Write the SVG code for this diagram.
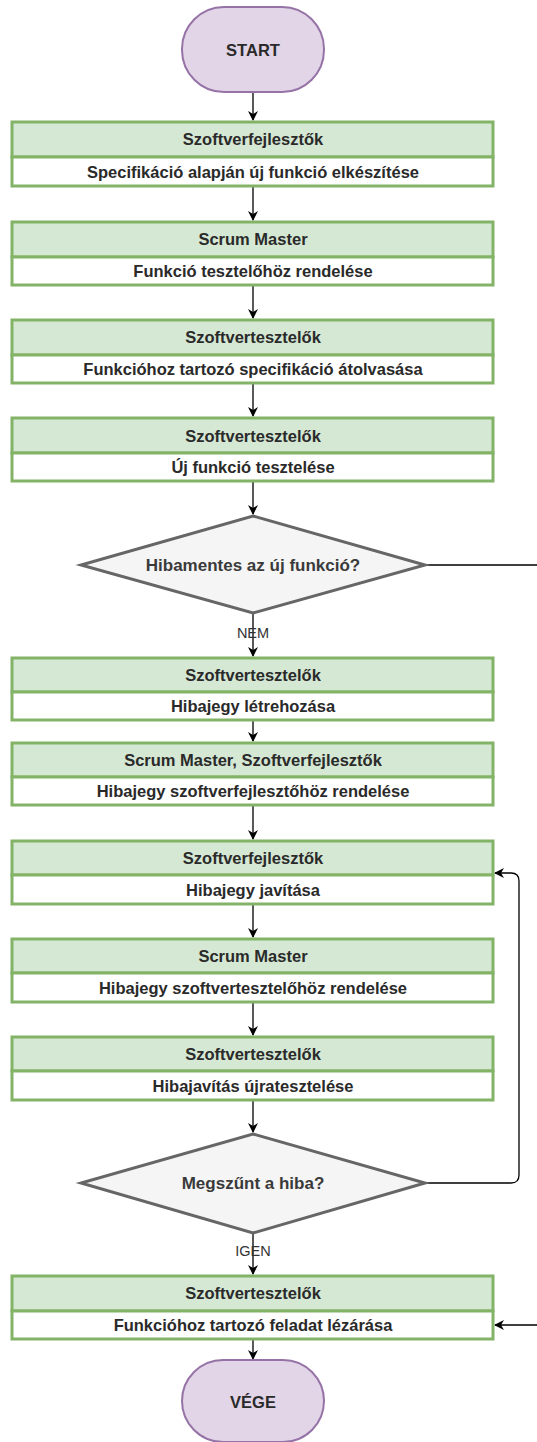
<svg xmlns="http://www.w3.org/2000/svg" width="537" height="1442" viewBox="0 0 537 1442">
<defs>
<marker id="arr" viewBox="0 0 10 10" refX="9" refY="5" markerWidth="10" markerHeight="10" markerUnits="userSpaceOnUse" orient="auto">
<path d="M0,0 L10,5 L0,10 L3,5 Z" fill="#000"/>
</marker>
<style>
.term{fill:#e1d5e7;stroke:#9673a6;stroke-width:2}
.hd{fill:#d5e8d4;stroke:#82b366;stroke-width:3}
.bd{fill:#ffffff;stroke:#82b366;stroke-width:3}
.dec{fill:#f5f5f5;stroke:#666666;stroke-width:3}
.t{font-family:"Liberation Sans",Arial,sans-serif;font-size:16.5px;font-weight:bold;fill:#2a2a2a;text-anchor:middle;dominant-baseline:central}
.dt{font-family:"Liberation Sans",Arial,sans-serif;font-size:17px;font-weight:bold;fill:#3a3a3a;text-anchor:middle;dominant-baseline:central}
.lbl{font-family:"Liberation Sans",Arial,sans-serif;font-size:14.5px;fill:#333;text-anchor:middle;dominant-baseline:central}
.c{fill:none;stroke:#000;stroke-width:1.3}
</style>
</defs>

<g id="connectors">
<line class="c" x1="253" y1="92" x2="253" y2="120" marker-end="url(#arr)"/>
<line class="c" x1="253" y1="187" x2="253" y2="220" marker-end="url(#arr)"/>
<line class="c" x1="253" y1="286" x2="253" y2="318" marker-end="url(#arr)"/>
<line class="c" x1="253" y1="384" x2="253" y2="416" marker-end="url(#arr)"/>
<line class="c" x1="253" y1="482" x2="253" y2="514" marker-end="url(#arr)"/>
<line class="c" x1="426" y1="565" x2="537" y2="565"/>
<line class="c" x1="253" y1="614" x2="253" y2="656" marker-end="url(#arr)"/>
<line class="c" x1="253" y1="721" x2="253" y2="741" marker-end="url(#arr)"/>
<line class="c" x1="253" y1="806" x2="253" y2="839" marker-end="url(#arr)"/>
<line class="c" x1="253" y1="905" x2="253" y2="937" marker-end="url(#arr)"/>
<line class="c" x1="253" y1="1003" x2="253" y2="1035" marker-end="url(#arr)"/>
<line class="c" x1="253" y1="1101" x2="253" y2="1132" marker-end="url(#arr)"/>
<path class="c" d="M426,1183 L511,1183 Q519,1183 519,1175 L519,881 Q519,873 511,873 L495,873" marker-end="url(#arr)"/>
<line class="c" x1="253" y1="1234" x2="253" y2="1274" marker-end="url(#arr)"/>
<line class="c" x1="537" y1="1325" x2="495" y2="1325" marker-end="url(#arr)"/>
<line class="c" x1="253" y1="1340" x2="253" y2="1359" marker-end="url(#arr)"/>
</g>

<g id="start">
<rect class="term" x="182" y="7" width="142" height="85" rx="42" ry="42"/>
<text class="t" x="253" y="50">START</text>
</g>

<g id="step1">
<rect class="hd" x="12" y="122" width="481" height="35"/>
<rect class="bd" x="12" y="157" width="481" height="29"/>
<text class="t" x="253" y="139">Szoftverfejlesztők</text>
<text class="t" x="253" y="172">Specifikáció alapján új funkció elkészítése</text>
</g>

<g id="step2">
<rect class="hd" x="12" y="222" width="481" height="35"/>
<rect class="bd" x="12" y="257" width="481" height="28"/>
<text class="t" x="253" y="239">Scrum Master</text>
<text class="t" x="253" y="271">Funkció tesztelőhöz rendelése</text>
</g>

<g id="step3">
<rect class="hd" x="12" y="320" width="481" height="35"/>
<rect class="bd" x="12" y="355" width="481" height="28"/>
<text class="t" x="253" y="337">Szoftvertesztelők</text>
<text class="t" x="253" y="369">Funkcióhoz tartozó specifikáció átolvasása</text>
</g>

<g id="step4">
<rect class="hd" x="12" y="418" width="481" height="35"/>
<rect class="bd" x="12" y="453" width="481" height="28"/>
<text class="t" x="253" y="436">Szoftvertesztelők</text>
<text class="t" x="253" y="467">Új funkció tesztelése</text>
</g>

<g id="decision1">
<polygon class="dec" points="253,516 425,565 253,613 81,565"/>
<text class="dt" x="253" y="565">Hibamentes az új funkció?</text>
</g>
<text class="lbl" x="253" y="633">NEM</text>

<g id="step5">
<rect class="hd" x="12" y="658" width="481" height="34"/>
<rect class="bd" x="12" y="692" width="481" height="28"/>
<text class="t" x="253" y="675">Szoftvertesztelők</text>
<text class="t" x="253" y="706">Hibajegy létrehozása</text>
</g>

<g id="step6">
<rect class="hd" x="12" y="743" width="481" height="34"/>
<rect class="bd" x="12" y="777" width="481" height="28"/>
<text class="t" x="253" y="760">Scrum Master, Szoftverfejlesztők</text>
<text class="t" x="253" y="791">Hibajegy szoftverfejlesztőhöz rendelése</text>
</g>

<g id="step7">
<rect class="hd" x="12" y="841" width="481" height="34"/>
<rect class="bd" x="12" y="875" width="481" height="29"/>
<text class="t" x="253" y="858">Szoftverfejlesztők</text>
<text class="t" x="253" y="890">Hibajegy javítása</text>
</g>

<g id="step8">
<rect class="hd" x="12" y="939" width="481" height="34"/>
<rect class="bd" x="12" y="973" width="481" height="29"/>
<text class="t" x="253" y="956">Scrum Master</text>
<text class="t" x="253" y="988">Hibajegy szoftvertesztelőhöz rendelése</text>
</g>

<g id="step9">
<rect class="hd" x="12" y="1037" width="481" height="34"/>
<rect class="bd" x="12" y="1071" width="481" height="29"/>
<text class="t" x="253" y="1054">Szoftvertesztelők</text>
<text class="t" x="253" y="1086">Hibajavítás újratesztelése</text>
</g>

<g id="decision2">
<polygon class="dec" points="253,1134 425,1183 253,1233 81,1183"/>
<text class="dt" x="253" y="1183">Megszűnt a hiba?</text>
</g>
<text class="lbl" x="253" y="1251">IGEN</text>

<g id="step10">
<rect class="hd" x="12" y="1276" width="481" height="35"/>
<rect class="bd" x="12" y="1311" width="481" height="28"/>
<text class="t" x="253" y="1293">Szoftvertesztelők</text>
<text class="t" x="253" y="1325">Funkcióhoz tartozó feladat lézárása</text>
</g>

<g id="end">
<rect class="term" x="182" y="1360" width="142" height="82" rx="41" ry="41"/>
<text class="t" x="253" y="1402">VÉGE</text>
</g>
</svg>
